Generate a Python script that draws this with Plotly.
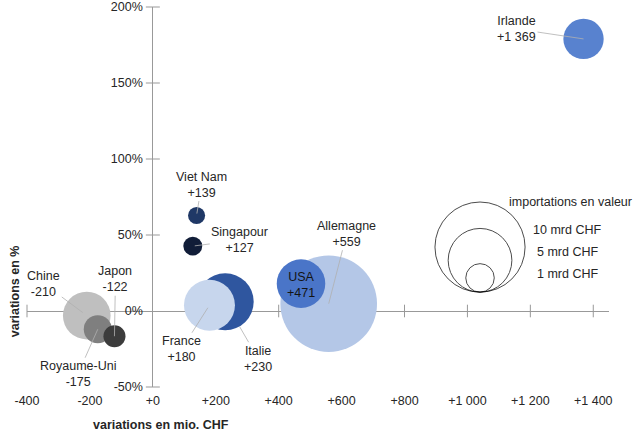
import numpy as np
import plotly.graph_objects as go

# %%
# variations des importations par pays (ordre = ordre de dessin)
pays = ["Allemagne", "USA", "Italie", "France", "Chine", "Royaume-Uni",
        "Japon", "Singapour", "Viet Nam", "Irlande"]
var_chf = [559, 471, 230, 180, -210, -175, -122, 127, 139, 1369]
var_pct = [0.048, 0.18, 0.061, 0.038, -0.03, -0.12, -0.166, 0.427, 0.628, 1.79]
imports_mrd = [11.5, 2.9, 4.0, 3.2, 2.8, 0.97, 0.6, 0.44, 0.36, 2.0]

x_ticks = [-400, -200, 0, 200, 400, 600, 800, 1000, 1200, 1400]
y_ticks = [-0.5, 0, 0.5, 1.0, 1.5, 2.0]
legende_mrd = [10, 5, 1]

# %%
couleurs = ["#b4c7e7", "#4a75c8", "#2f569f", "#c7d6ed", "#bfbfbf", "#7f7f7f",
            "#3c3c3c", "#111d38", "#1f3866", "#5882cf"]
# décalage des étiquettes (px) et retrait du trait de rappel
decal = {"Allemagne": (18, -70, 0), "Italie": (33, 57, 29), "France": (-28, 44, 3),
         "Chine": (-43, -32, 5), "Royaume-Uni": (-20, 45, 0), "Japon": (1, -57, 0),
         "Singapour": (47, -6, 2), "Viet Nam": (5, -31, 2), "Irlande": (-67, -10, 0)}

W, H = 639, 436
MARG = dict(l=27, r=30, t=7, b=49)
X_RANGE = [-400, 1450]
Y_RANGE = [-0.5, 2.0]
ppy = (H - MARG["t"] - MARG["b"]) / (Y_RANGE[1] - Y_RANGE[0])
K = 28.5  # diamètre px pour 1 mrd CHF (surface proportionnelle)
FONT = "Liberation Sans, Arial, sans-serif"
GRIS = "#999999"
TXT = "#262626"


def signe(v):
    s = f"{abs(v):,}".replace(",", " ")
    return ("+" if v >= 0 else "-") + s


diam = [K * np.sqrt(v) for v in imports_mrd]

fig = go.Figure()

# graduations qui croisent les axes
tx = [v for v in x_ticks if v != 0]
ty = [v for v in y_ticks if v != 0]
fig.add_trace(go.Scatter(x=tx, y=[0] * len(tx), mode="markers", cliponaxis=False,
                         marker=dict(symbol="line-ns", size=9, line=dict(color=GRIS, width=1)),
                         hoverinfo="skip", showlegend=False))
fig.add_trace(go.Scatter(x=[0] * len(ty), y=ty, mode="markers", cliponaxis=False,
                         marker=dict(symbol="line-ew", size=10, line=dict(color=GRIS, width=1)),
                         hoverinfo="skip", showlegend=False))

# bulles
fig.add_trace(go.Scatter(x=var_chf, y=var_pct, mode="markers", text=pays,
                         marker=dict(size=diam, sizemode="diameter", color=couleurs,
                                     opacity=1, line=dict(width=0)),
                         showlegend=False))

# légende des tailles
leg_x, leg_base = 1040, 0.124
leg_d = [K * np.sqrt(v) for v in legende_mrd]
fig.add_trace(go.Scatter(x=[leg_x] * len(leg_d),
                         y=[leg_base + d / 2 / ppy for d in leg_d],
                         mode="markers", cliponaxis=False,
                         marker=dict(size=leg_d, color="rgba(0,0,0,0)",
                                     line=dict(color="#000000", width=1)),
                         hoverinfo="skip", showlegend=False))

annots = []
for p, x, y in zip(pays, var_chf, var_pct):
    txt = f"{p}<br>{signe(x)}"
    if p == "USA":
        annots.append(dict(x=x, y=y, text=txt, showarrow=False, yshift=-1,
                           font=dict(family=FONT, size=12.5, color="#141414")))
        continue
    ax, ay, so = decal[p]
    annots.append(dict(x=x, y=y, text=txt, showarrow=True, ax=ax, ay=ay,
                       arrowhead=0, arrowwidth=0.8, arrowcolor="#b0b0b0", standoff=so,
                       align="right" if p == "Irlande" else "center",
                       font=dict(family=FONT, size=12.5, color=TXT)))

annots.append(dict(x=1327, y=0.717, text="importations en valeur", showarrow=False,
                   font=dict(family=FONT, size=12.5, color=TXT)))
for v, yy in zip(legende_mrd, [0.532, 0.387, 0.242]):
    annots.append(dict(x=1318, y=yy, text=f"{v} mrd CHF", showarrow=False,
                       font=dict(family=FONT, size=12.5, color=TXT)))

# titres d'axes
annots.append(dict(xref="paper", yref="paper", x=0.230, y=-0.101,
                   xanchor="center", yanchor="middle",
                   text="<b>variations en mio. CHF</b>", showarrow=False,
                   font=dict(family=FONT, size=12.5, color=TXT)))
annots.append(dict(xref="paper", yref="paper", x=-0.0206, y=0.252, textangle=-90,
                   xanchor="center", yanchor="middle",
                   text="<b>variations en %</b>", showarrow=False,
                   font=dict(family=FONT, size=12.5, color=TXT)))

fig.update_layout(
    width=W, height=H, margin=MARG,
    paper_bgcolor="white", plot_bgcolor="white",
    font=dict(family=FONT, size=12.5, color=TXT),
    annotations=annots,
    xaxis=dict(range=X_RANGE, tickvals=x_ticks, ticktext=[signe(v) for v in x_ticks],
               showgrid=False, showline=False, ticks="", ticklabelstandoff=4,
               automargin=False,
               zeroline=True, zerolinecolor=GRIS, zerolinewidth=1, layer="below traces"),
    yaxis=dict(range=Y_RANGE, tickvals=y_ticks,
               ticktext=[f"{round(v * 100)}%" for v in y_ticks],
               anchor="free", position=(0 - X_RANGE[0]) / (X_RANGE[1] - X_RANGE[0]),
               showgrid=False, showline=False, ticks="", ticklabelstandoff=10,
               automargin=False,
               zeroline=True, zerolinecolor=GRIS, zerolinewidth=1, layer="below traces"),
)

fig.write_html("out.html", config={"displayModeBar": False},
               post_script="document.body.style.margin='0';")
